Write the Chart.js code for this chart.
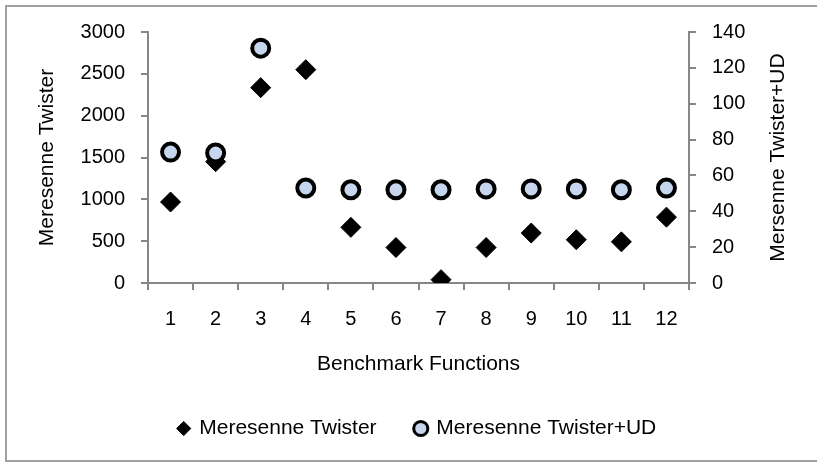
<!DOCTYPE html>
<html>
<head>
<meta charset="utf-8">
<script src="https://cdn.jsdelivr.net/npm/chart.js@4"></script>
<style>
  html, body { margin: 0; padding: 0; background: #fff; }
  #wrap { width: 817px; height: 465px; position: relative; }
</style>
</head>
<body>
<div id="wrap"><canvas id="myChart"></canvas></div>
<script>
const functions = ['1', '2', '3', '4', '5', '6', '7', '8', '9', '10', '11', '12'];
const twister = [968, 1450, 2335, 2550, 665, 424, 40, 424, 597, 517, 492, 787];
const twisterUD = [73, 72.5, 131, 53, 52, 52, 52, 52.5, 52.5, 52.5, 52, 53];

const axisGray = '#868686';
const family = 'Liberation Sans, Arial, sans-serif';
const tickFont = { family: family, size: 20 };
const textFont = { family: family, size: 21 };
const rightTitle = 'Mersenne Twister+UD';

// frame around the whole chart (open on the right like the exported figure)
// plus the right axis title, which reads bottom-to-top like the left one
const frame = {
  id: 'frame',
  afterDraw(chart) {
    const c = chart.ctx;
    c.save();
    c.strokeStyle = '#a0a0a0';
    c.lineWidth = 2;
    c.beginPath();
    c.moveTo(817, 6);
    c.lineTo(6, 6);
    c.lineTo(6, 461);
    c.lineTo(817, 461);
    c.stroke();

    const area = chart.chartArea;
    const y1 = chart.scales.y1;
    c.translate(y1.right - 39, (area.top + area.bottom) / 2);
    c.rotate(-Math.PI / 2);
    c.fillStyle = '#000';
    c.font = textFont.size + 'px ' + family;
    c.textAlign = 'center';
    c.textBaseline = 'middle';
    c.fillText(rightTitle, 0, 0);
    c.restore();
  }
};

const data = {
  labels: functions,
  datasets: [{
    label: 'Meresenne Twister',
    data: twister,
    yAxisID: 'y',
    showLine: false,
    pointStyle: 'rectRot',
    pointRadius: 10,
    pointHoverRadius: 10,
    backgroundColor: '#000',
    borderColor: '#000',
    borderWidth: 1,
    order: 1
  }, {
    label: 'Meresenne Twister+UD',
    data: twisterUD,
    yAxisID: 'y1',
    showLine: false,
    pointStyle: 'circle',
    pointRadius: 8.5,
    pointHoverRadius: 8.5,
    backgroundColor: '#c6d6ee',
    borderColor: '#000',
    borderWidth: 4,
    order: 0
  }]
};

const config = {
  type: 'line',
  data: data,
  options: {
    responsive: false,
    animation: false,
    layout: { padding: { left: 18, right: 0, top: 32, bottom: 16 } },
    plugins: {
      tooltip: { enabled: false },
      legend: {
        position: 'bottom',
        labels: {
          usePointStyle: true,
          boxWidth: 10,
          boxHeight: 10,
          padding: 10,
          color: '#000',
          font: textFont,
          sort: (a, b) => a.datasetIndex - b.datasetIndex,
          generateLabels(chart) {
            const items = Chart.defaults.plugins.legend.labels.generateLabels(chart);
            items.forEach(it => {
              if (it.datasetIndex === 0) it.text = it.text + '     ';
              if (it.datasetIndex === 1) it.lineWidth = 3;
            });
            return items;
          }
        }
      }
    },
    scales: {
      x: {
        offset: true,
        grid: { offset: true, drawOnChartArea: false, drawTicks: true, tickLength: 7, color: axisGray, lineWidth: 2 },
        border: { color: axisGray, width: 2 },
        ticks: { color: '#000', font: tickFont, padding: 17, maxRotation: 0 },
        title: { display: true, text: 'Benchmark Functions', color: '#000', font: textFont, padding: { top: 0, bottom: 31 } },
        afterFit(scale) { scale.height = 125; }
      },
      y: {
        position: 'left',
        min: 0,
        max: 3000,
        grid: { drawOnChartArea: false, tickLength: 7, color: axisGray, lineWidth: 2 },
        border: { color: axisGray, width: 2 },
        ticks: { stepSize: 500, color: '#000', font: tickFont, padding: 16, callback: v => String(v) },
        title: { display: true, text: 'Meresenne Twister', color: '#000', font: textFont, padding: { top: 17, bottom: 0 } },
        afterFit(scale) { scale.width = 130; }
      },
      y1: {
        position: 'right',
        min: 0,
        max: 140,
        grid: { drawOnChartArea: false, tickLength: 7, color: axisGray, lineWidth: 2 },
        border: { color: axisGray, width: 2 },
        ticks: { stepSize: 20, color: '#000', font: tickFont, padding: 16, callback: v => String(v) },
        title: { display: false },
        afterFit(scale) { scale.width = 128; }
      }
    }
  },
  plugins: [frame]
};

const canvas = document.getElementById('myChart');
canvas.width = 817;
canvas.height = 465;
const myChart = new Chart(canvas, config);
</script>
</body>
</html>
